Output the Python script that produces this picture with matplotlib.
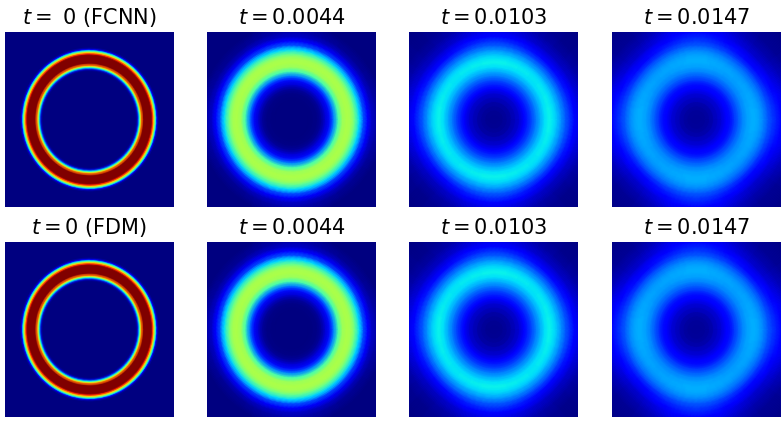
import numpy as np
import matplotlib
matplotlib.use("Agg")
import matplotlib.pyplot as plt

# Radial profiles (r = 1 is the middle of a panel edge)
# FCNN and FDM rows look the same by eye, so both rows use these values
radii_start = [0, 0.55, 0.57, 0.585, 0.595, 0.605, 0.62, 0.645, 0.735, 0.75, 0.765, 0.78, 0.79, 0.80, 0.815, 0.83, 1.5]
start_profile = [0, 0, 0.06, 0.25, 0.38, 0.6, 0.8, 1, 1, 0.87, 0.68, 0.48, 0.35, 0.13, 0.03, 0, 0]

radii = [0, 0.1, 0.2, 0.3, 0.35, 0.4, 0.45, 0.5, 0.55, 0.6, 0.65, 0.7, 0.75, 0.8,
         0.85, 0.9, 0.95, 1.0, 1.1, 1.2, 1.5]

# t = 0.0044
axis_0044 = [0, 0, 0, 0.01, 0.03, 0.08, 0.14, 0.26, 0.44, 0.54, 0.56, 0.55, 0.47, 0.34,
             0.20, 0.11, 0.06, 0.04, 0.01, 0, 0]
diag_0044 = [0, 0, 0, 0.01, 0.03, 0.08, 0.14, 0.26, 0.44, 0.54, 0.56, 0.55, 0.46, 0.33,
             0.19, 0.10, 0.05, 0.02, 0, 0, 0]
# t = 0.0103
axis_0103 = [0.015, 0.02, 0.04, 0.08, 0.12, 0.16, 0.20, 0.25, 0.30, 0.345, 0.365, 0.35, 0.31, 0.26,
             0.21, 0.17, 0.13, 0.10, 0.06, 0.04, 0.02]
diag_0103 = [0.015, 0.02, 0.04, 0.08, 0.12, 0.16, 0.20, 0.25, 0.30, 0.34, 0.355, 0.34, 0.29, 0.24,
             0.18, 0.13, 0.09, 0.06, 0.03, 0.015, 0]
# t = 0.0147
axis_0147 = [0.02, 0.025, 0.05, 0.085, 0.11, 0.14, 0.18, 0.22, 0.26, 0.285, 0.295, 0.295, 0.28, 0.25,
             0.21, 0.18, 0.155, 0.13, 0.09, 0.07, 0.03]
diag_0147 = [0.02, 0.025, 0.05, 0.085, 0.11, 0.14, 0.18, 0.22, 0.255, 0.275, 0.285, 0.28, 0.255, 0.22,
             0.17, 0.13, 0.10, 0.07, 0.04, 0.02, 0]

titles_top = ["$t=$ 0 (FCNN)", "$t=0.0044$", "$t=0.0103$", "$t=0.0147$"]
titles_bottom = ["$t=0$ (FDM)", "$t=0.0044$", "$t=0.0103$", "$t=0.0147$"]

panels = [
    (radii_start, start_profile, start_profile),
    (radii, axis_0044, diag_0044),
    (radii, axis_0103, diag_0103),
    (radii, axis_0147, diag_0147),
]

theta = np.linspace(0, 2 * np.pi, 361)


def draw_panel(ax, r_list, axis_vals, diag_vals, title):
    r, th = np.meshgrid(np.array(r_list), theta)
    # axis and diagonal profiles meet between the two directions
    w = np.cos(2 * th) ** 2
    c = w * np.array(axis_vals) + (1 - w) * np.array(diag_vals)
    ax.pcolormesh(r * np.cos(th), r * np.sin(th), c, cmap="jet", vmin=0, vmax=1, shading="gouraud")
    ax.set_xlim(-1, 1)
    ax.set_ylim(-1, 1)
    ax.axis("off")
    ax.set_title(title, fontsize=15)


fig, axes = plt.subplots(2, 4, figsize=(7.84, 4.22), dpi=100)
fig.subplots_adjust(left=4.7 / 784, right=780.8 / 784, top=1 - 32 / 422, bottom=1 - 417 / 422,
                    wspace=0.197, hspace=0.2)

for i in range(4):
    r_list, axis_vals, diag_vals = panels[i]
    draw_panel(axes[0, i], r_list, axis_vals, diag_vals, titles_top[i])
    draw_panel(axes[1, i], r_list, axis_vals, diag_vals, titles_bottom[i])

fig.savefig("out.png", dpi=100)
